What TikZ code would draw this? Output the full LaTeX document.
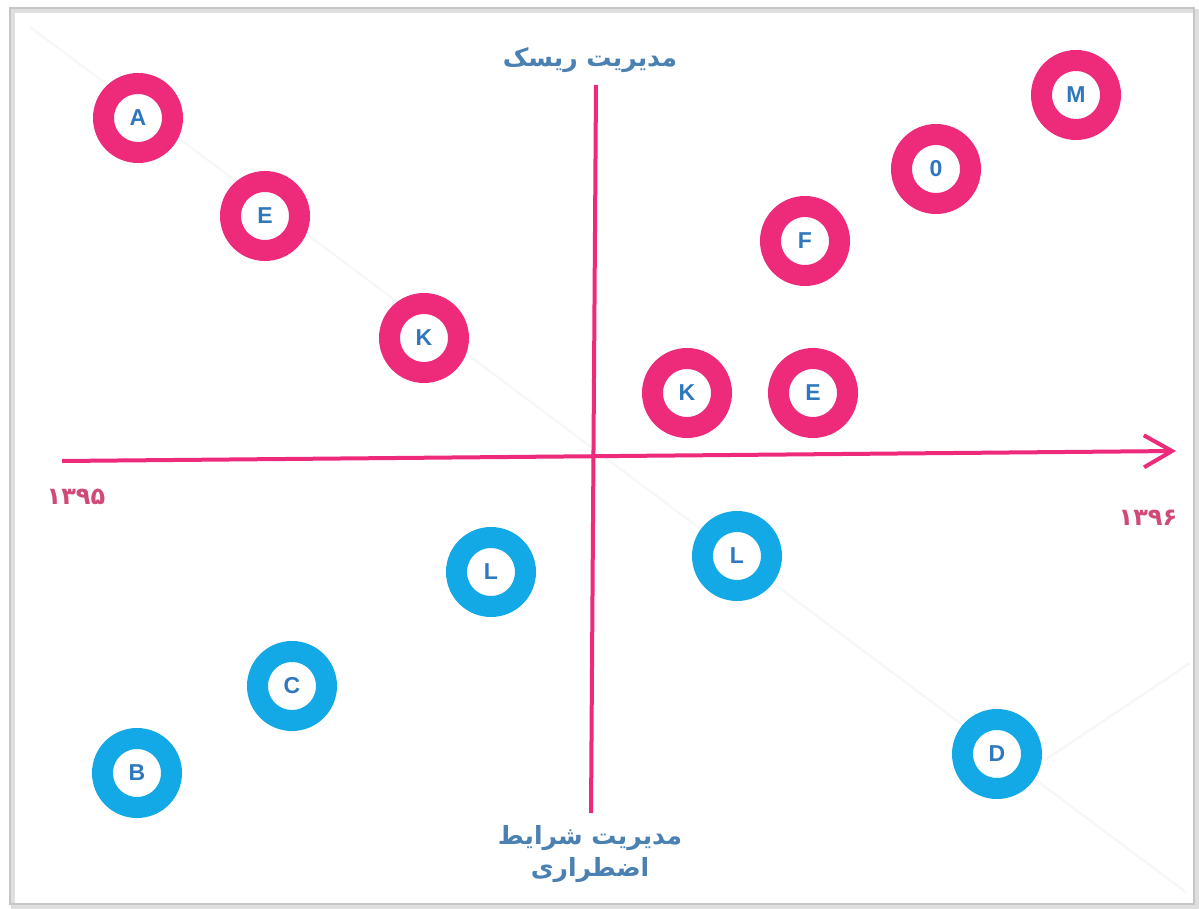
\documentclass[tikz,border=0pt]{standalone}
\usepackage{fontspec}
\setmainfont{Liberation Sans}
\newfontfamily\arabicfont[Script=Arabic]{DejaVu Sans}
\TeXXeTstate=1
\usetikzlibrary{arrows.meta}
\definecolor{pinkc}{HTML}{EE2A7B}
\definecolor{bluec}{HTML}{12A9E6}
\definecolor{letterc}{HTML}{2F78BE}
\definecolor{labelc}{HTML}{4A80B2}
\definecolor{yearc}{HTML}{CF4A78}
\tikzset{
  ring/.style={circle, fill=white, line width=10.5pt, minimum size=34.5pt, inner sep=0pt,
    font=\fontsize{11.5}{11.5}\selectfont\bfseries, text=letterc},
  pinkring/.style={ring, draw=pinkc},
  bluering/.style={ring, draw=bluec},
  axisline/.style={draw=pinkc, line width=2pt},
  axlabel/.style={font=\arabicfont\bfseries\fontsize{12.5}{16}\selectfont, text=labelc, align=center},
  yearlabel/.style={font=\arabicfont\bfseries\fontsize{12}{14}\selectfont, text=yearc},
}
\begin{document}
\begin{tikzpicture}[x=0.5pt,y=-0.5pt]
\fill[white] (0,0) rectangle (1199,909);
\useasboundingbox (0,0) rectangle (1199,909);
% frame with slight shadow
\draw[gray!25, line width=2pt] (13,11) rectangle (1197,907);
\draw[gray!45, line width=1pt] (10,8) rectangle (1194,904);
% faint background diagonals
\draw[gray!6, line width=1.2pt] (30,27) -- (1187,893);
\draw[gray!6, line width=1.2pt] (1045,760) -- (1190,663);
% axes
\coordinate (xl) at (62,461);
\coordinate (xr) at (1176,451);
\coordinate (yt) at (596,85);
\coordinate (yb) at (591,813);
\draw[axisline, -{Straight Barb[length=14pt, width=16pt]}] (xl) -- (xr);
\draw[axisline] (yt) -- (yb);
% labels
\node[axlabel] (top) at (590,60) {\beginR مدیریت ریسک\endR};
\node[axlabel] (bottom) at (590,854) {\beginR مدیریت شرایط\endR\\\beginR اضطراری\endR};
\node[yearlabel] (y95) at (76,497) {۱۳۹۵};
\node[yearlabel] (y96) at (1148,518) {۱۳۹۶};
% pink circles
\node[pinkring] (A) at (138,118) {A};
\node[pinkring] (E1) at (265,216) {E};
\node[pinkring] (K1) at (424,338) {K};
\node[pinkring] (K2) at (687,393) {K};
\node[pinkring] (E2) at (813,393) {E};
\node[pinkring] (F) at (805,241) {F};
\node[pinkring] (O) at (936,169) {0};
\node[pinkring] (M) at (1076,95) {M};
% blue circles
\node[bluering] (L1) at (491,572) {L};
\node[bluering] (L2) at (737,556) {L};
\node[bluering] (C) at (292,686) {C};
\node[bluering] (B) at (137,773) {B};
\node[bluering] (D) at (997,754) {D};
\end{tikzpicture}
\end{document}
